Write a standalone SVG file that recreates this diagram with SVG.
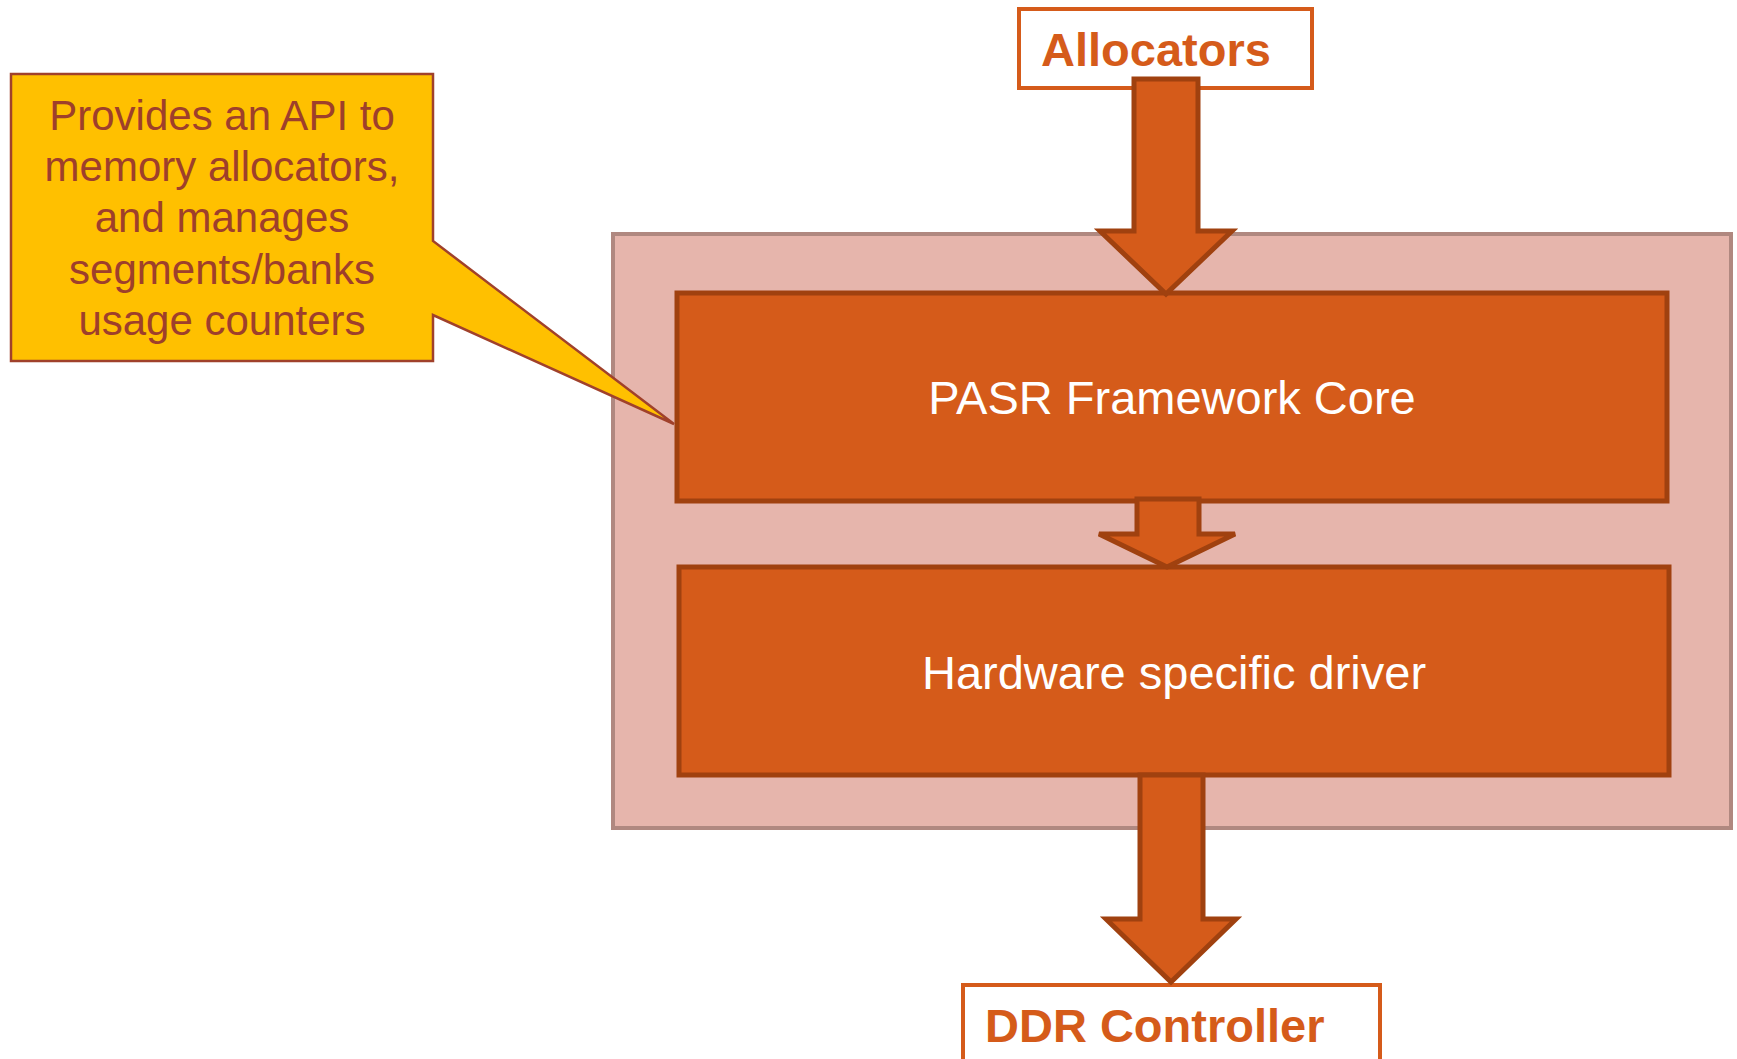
<svg xmlns="http://www.w3.org/2000/svg" width="1737" height="1059" viewBox="0 0 1737 1059">
<style>
.lbl{font-family:"Liberation Sans",Arial,sans-serif;font-weight:bold;font-size:47px;fill:#D55B1A}
.term{fill:#fff;stroke:#D55B1A;stroke-width:4}
.blk{fill:#D55B1A;stroke:#A0410F;stroke-width:5}
.arr{fill:#D55B1A;stroke:#A0410F;stroke-width:5;stroke-linejoin:miter}
.wt{font-family:"Liberation Sans",Arial,sans-serif;font-size:47px;fill:#fff;text-anchor:middle}
.ct{font-family:"Liberation Sans",Arial,sans-serif;font-size:42px;fill:#9E3F2B;text-anchor:middle}
</style>
<rect width="1737" height="1059" fill="#fff"/>
<g id="allocators">
<rect class="term" x="1019" y="9" width="293" height="79"/>
<text class="lbl" x="1041" y="66">Allocators</text>
</g>
<g id="container">
<rect x="613" y="234" width="1118" height="594" fill="#E6B5AC" stroke="#B08880" stroke-width="4"/>
</g>
<g id="pasr-core">
<rect class="blk" x="677" y="293" width="990" height="208"/>
<text class="wt" x="1172" y="414">PASR Framework Core</text>
</g>
<g id="hw-driver">
<rect class="blk" x="679" y="567" width="990" height="208"/>
<text class="wt" x="1174" y="689">Hardware specific driver</text>
</g>
<g id="ddr">
<rect class="term" x="963" y="985" width="417" height="90"/>
<text class="lbl" x="985" y="1042">DDR Controller</text>
</g>
<g id="callout">
<path d="M11,74 H433 V241 L674,424 L433,315 V361 H11 Z" fill="#FFC000" stroke="#A0412B" stroke-width="2.5" stroke-linejoin="miter"/>
<text class="ct" x="222" y="130">Provides an API to</text>
<text class="ct" x="222" y="181">memory allocators,</text>
<text class="ct" x="222" y="232">and manages</text>
<text class="ct" x="222" y="284">segments/banks</text>
<text class="ct" x="222" y="335">usage counters</text>
</g>
<g id="connectors">
<path class="arr" d="M1134,79 H1198 V231 H1232 L1166,294 L1100,231 H1134 Z"/>
<path class="arr" d="M1137,499 H1199 V534 H1235 L1167,567 L1099,534 H1137 Z"/>
<path class="arr" d="M1140,775 H1203 V919 H1236 L1171,982 L1106,919 H1140 Z"/>
</g>
</svg>
